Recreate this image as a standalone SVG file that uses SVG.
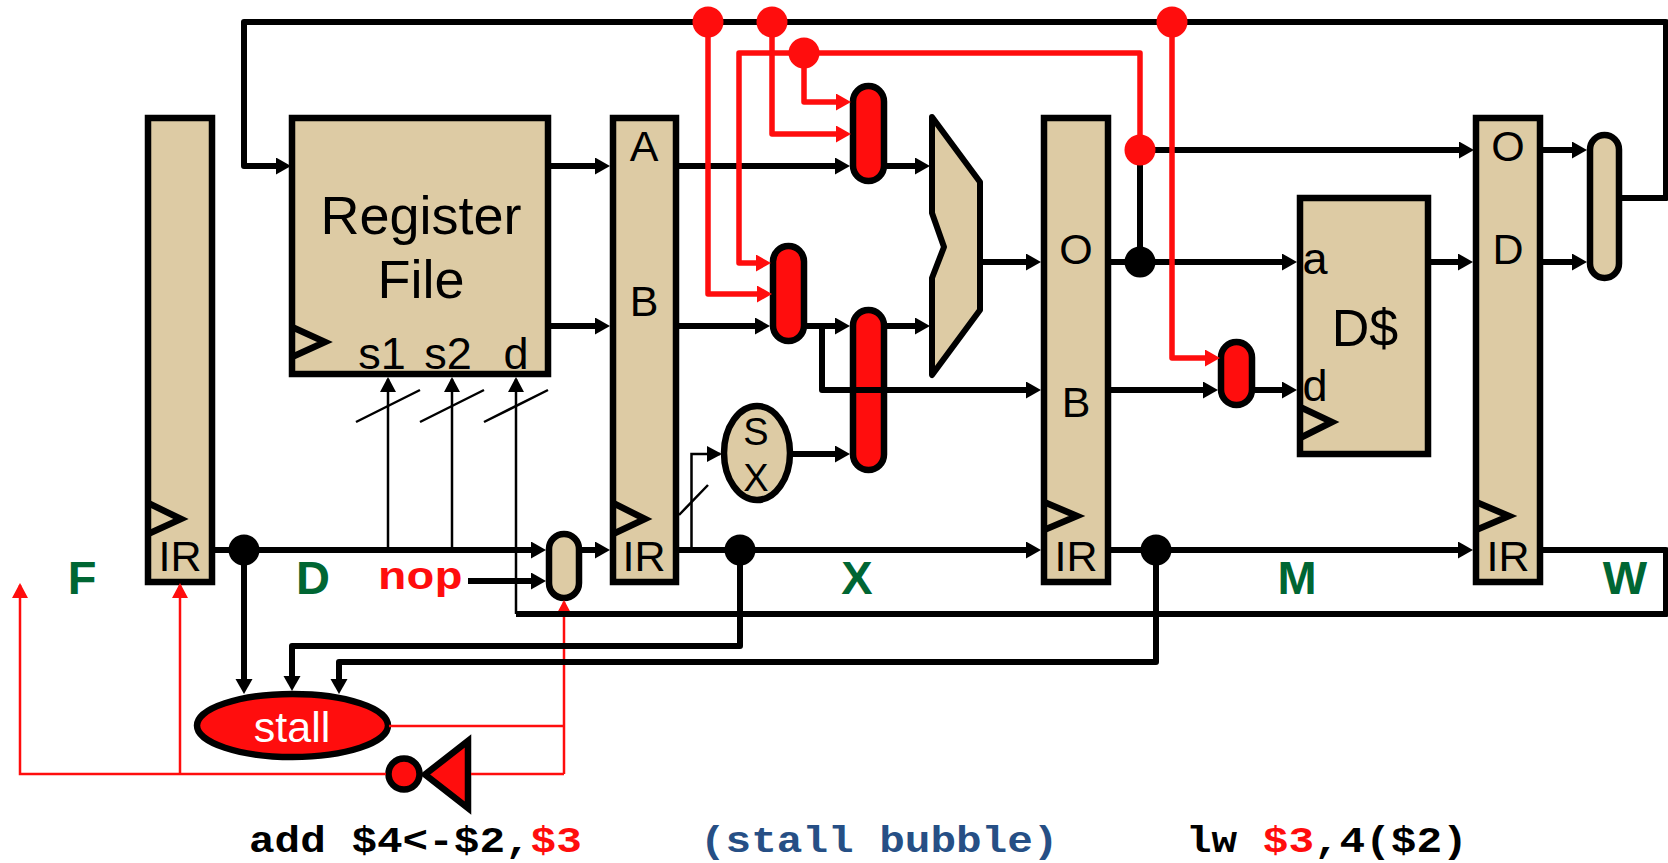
<svg xmlns="http://www.w3.org/2000/svg" width="1668" height="863" viewBox="0 0 1668 863">
<style>
text{font-family:"Liberation Sans",Arial,sans-serif;fill:#000;text-anchor:middle}
.box{fill:#DDCBA4;stroke:#000;stroke-width:6.5}
.red{fill:#FF0D0D;stroke:#000;stroke-width:6.5}
.clk{fill:none;stroke:#000;stroke-width:6.5}
.w{fill:none;stroke:#000;stroke-width:6;stroke-linejoin:round}
.t{fill:none;stroke:#000;stroke-width:2.5}
.rw{fill:none;stroke:#FF0D0D;stroke-width:5.5;stroke-linejoin:round}
.rt{fill:none;stroke:#FF0D0D;stroke-width:2.5}
.a{marker-end:url(#ab)}
.at{marker-end:url(#at)}
.ar{marker-end:url(#ar)}
.art{marker-end:url(#art)}
.dotk{fill:#000}
.dotr{fill:#FF0D0D}
.l40{font-size:43px}
.stage{font-size:47px;font-weight:bold;fill:#006633}
.mono{font-family:"Liberation Mono","Courier New",monospace;font-size:36px;font-weight:bold;text-anchor:start}
</style>
<defs>
<marker id="ab" markerUnits="userSpaceOnUse" markerWidth="16" markerHeight="18" refX="4" refY="8.5" orient="auto"><path d="M0 0L15 8.5L0 17z" fill="#000"/></marker>
<marker id="at" markerUnits="userSpaceOnUse" markerWidth="16" markerHeight="18" refX="13" refY="8" orient="auto"><path d="M0 0L15 8L0 16z" fill="#000"/></marker>
<marker id="ar" markerUnits="userSpaceOnUse" markerWidth="16" markerHeight="18" refX="4" refY="8.5" orient="auto"><path d="M0 0L15 8.5L0 17z" fill="#FF0D0D"/></marker>
<marker id="art" markerUnits="userSpaceOnUse" markerWidth="16" markerHeight="18" refX="13" refY="8" orient="auto"><path d="M0 0L15 8L0 16z" fill="#FF0D0D"/></marker>
</defs>

<g id="reg-fd">
<rect class="box" x="148" y="118" width="64" height="464"/>
<polyline class="clk" points="148,503 181,519 148,534"/>
<text class="l40" x="180" y="571">IR</text>
</g>
<g id="regfile">
<rect class="box" x="292" y="118" width="256" height="256"/>
<polyline class="clk" points="292,327 325,342 292,357"/>
<text x="421" y="234" font-size="54">Register</text>
<text x="421" y="298" font-size="54">File</text>
<text class="l40" x="382" y="369" style="font-size:45px">s1</text>
<text class="l40" x="448" y="369" style="font-size:45px">s2</text>
<text class="l40" x="516" y="369" style="font-size:45px">d</text>
</g>
<g id="reg-dx">
<rect class="box" x="613" y="118" width="63" height="464"/>
<polyline class="clk" points="613,503 645,519 613,534"/>
<text class="l40" x="644" y="161">A</text>
<text class="l40" x="644" y="316">B</text>
<text class="l40" x="644" y="571">IR</text>
</g>
<g id="bypass-a"><rect class="red" x="853" y="86" width="31" height="95" rx="15.5"/></g>
<g id="bypass-b"><rect class="red" x="773" y="246" width="31" height="95" rx="15.5"/></g>
<g id="bypass-imm"><rect class="red" x="853" y="310" width="31" height="160" rx="15.5"/></g>
<g id="alu"><polygon points="932,117 980,182 980,310 932,375 932,278 944,247 932,213" fill="#DDCBA4" stroke="#000" stroke-width="6" stroke-linejoin="round"/></g>
<g id="sx">
<ellipse class="box" cx="757" cy="453" rx="33" ry="47"/>
<text x="756" y="445" font-size="38">S</text>
<text x="756" y="491" font-size="38">X</text>
</g>
<g id="reg-xm">
<rect class="box" x="1044" y="118" width="64" height="464"/>
<polyline class="clk" points="1044,502 1077,516 1044,530"/>
<text class="l40" x="1076" y="264">O</text>
<text class="l40" x="1076" y="417">B</text>
<text class="l40" x="1076" y="571">IR</text>
</g>
<g id="dcache">
<rect class="box" x="1300" y="198" width="128" height="256"/>
<polyline class="clk" points="1300,407 1332,422 1300,438"/>
<text x="1315" y="274" style="font-size:45px">a</text>
<text x="1315" y="401" style="font-size:45px">d</text>
<text x="1365" y="346" font-size="52">D$</text>
</g>
<g id="bypass-d"><rect class="red" x="1221" y="342" width="31" height="63" rx="15.5"/></g>
<g id="reg-mw">
<rect class="box" x="1476" y="118" width="64" height="464"/>
<polyline class="clk" points="1476,502 1509,516 1476,530"/>
<text class="l40" x="1508" y="161">O</text>
<text class="l40" x="1508" y="264">D</text>
<text class="l40" x="1508" y="571">IR</text>
</g>
<g id="wb-mux"><rect class="box" x="1590" y="135" width="29" height="143" rx="14.5"/></g>
<g id="nop-mux"><rect class="box" x="549" y="534" width="30" height="64" rx="15"/></g>
<g id="stall">
<ellipse class="red" cx="292.5" cy="725.5" rx="95.5" ry="31.5"/>
<text x="292" y="742" font-size="43" style="fill:#fff">stall</text>
</g>
<g id="inverter">
<polygon class="red" points="468,741 468,808 425,774.5" style="stroke-linejoin:miter"/>
<circle class="red" cx="404" cy="774" r="15.5"/>
</g>

<g id="connectors">
<path class="rt art" d="M564 774V602"/>
<path class="rt" d="M389 726H564M471 774H564"/>
<path class="rt art" d="M386 774H20V585"/>
<path class="rt art" d="M180 774V585"/>
<path class="w a" d="M1622 198H1666V22H244V166H280"/>
<path class="w a" d="M551 166H599"/>
<path class="w a" d="M551 326H599"/>
<path class="w a" d="M679 166H839"/>
<path class="w a" d="M679 326H759"/>
<path class="w a" d="M807 326H839"/>
<path class="w a" d="M822 326V390H1030"/>
<path class="w a" d="M887 166H919"/>
<path class="w a" d="M887 326H919"/>
<path class="w a" d="M980 262H1030"/>
<path class="w a" d="M790 454H839"/>
<path class="w a" d="M1111 262H1286"/>
<path class="w" d="M1140 262V150"/>
<path class="w a" d="M1140 150H1463"/>
<path class="w a" d="M1431 262H1462"/>
<path class="w a" d="M1543 150H1576"/>
<path class="w a" d="M1543 262H1576"/>
<path class="w a" d="M1111 390H1207"/>
<path class="w a" d="M1255 390H1286"/>
<path class="w a" d="M215 550H535"/>
<path class="w a" d="M582 550H599"/>
<path class="w a" d="M468 581H535"/>
<path class="w a" d="M679 550H1030"/>
<path class="w a" d="M1111 550H1462"/>
<path class="w" d="M1543 550H1666V614H516"/>
<path class="w a" d="M244 550V683"/>
<path class="w a" d="M740 550V646H292V680"/>
<path class="w a" d="M1156 550V662H339V683"/>
<path class="t at" d="M388 550V379"/>
<path class="t at" d="M452 550V379"/>
<path class="t at" d="M516 614V379"/>
<path class="t at" d="M691.5 550V454H720"/>
<path class="t" d="M356 422L420 390M420 422L484 390M484 422L548 390M679 515L708 485"/>
<path class="rw ar" d="M708 22V294H761"/>
<path class="rw ar" d="M772 22V134H840"/>
<path class="rw ar" d="M804 53V102H840"/>
<path class="rw ar" d="M1140 150V53H739V263H760"/>
<path class="rw ar" d="M1172 22V358H1209"/>
</g>

<g id="dot-1"><circle class="dotk" cx="244" cy="550" r="15.5"/></g>
<g id="dot-2"><circle class="dotk" cx="740" cy="550" r="15.5"/></g>
<g id="dot-3"><circle class="dotk" cx="1156" cy="550" r="15.5"/></g>
<g id="dot-4"><circle class="dotk" cx="1140" cy="262" r="15.5"/></g>
<g id="dot-5"><circle class="dotr" cx="1140" cy="150" r="15.5"/></g>
<g id="dot-6"><circle class="dotr" cx="708" cy="22" r="15.5"/></g>
<g id="dot-7"><circle class="dotr" cx="772" cy="22" r="15.5"/></g>
<g id="dot-8"><circle class="dotr" cx="804" cy="53" r="15.5"/></g>
<g id="dot-9"><circle class="dotr" cx="1172" cy="22" r="15.5"/></g>

<text class="stage" x="82" y="594">F</text>
<text class="stage" x="313" y="594">D</text>
<text class="stage" x="857" y="594">X</text>
<text class="stage" x="1297" y="594">M</text>
<text class="stage" x="1625" y="594">W</text>
<text class="mono" transform="translate(378,589) scale(1.21,1)" style="font-size:39px;fill:#FF0D0D">nop</text>
<text class="mono" transform="translate(249,852) scale(1.185,1)">add $4&lt;-$2,<tspan style="fill:#FF0D0D">$3</tspan></text>
<text class="mono" transform="translate(700,852) scale(1.185,1)" style="fill:#264F85">(stall bubble)</text>
<text class="mono" transform="translate(1186,852) scale(1.185,1)">lw <tspan style="fill:#FF0D0D">$3</tspan>,4($2)</text>
</svg>
